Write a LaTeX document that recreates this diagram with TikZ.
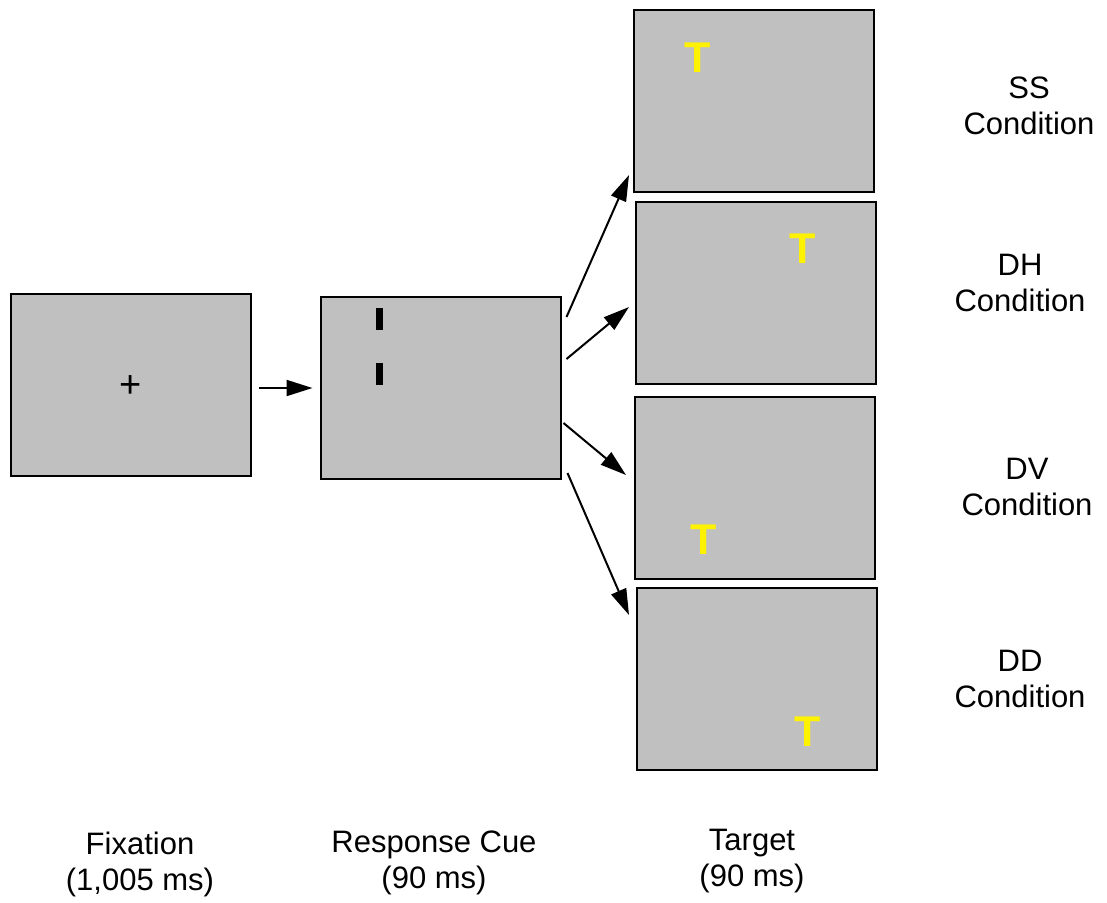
\documentclass[tikz,border=0pt]{standalone}
\usepackage{fontspec}
\setmainfont{Liberation Sans}
\usepackage{tikz}
\usetikzlibrary{arrows.meta}
\usetikzlibrary{positioning,calc}
\usepackage{xcolor}
\definecolor{screengray}{RGB}{192,192,192}

\begin{document}
\begin{tikzpicture}[x=0.5pt,y=-0.5pt]
		\tikzstyle{screen} = [draw, line width=1pt, fill=screengray, rectangle,
			minimum width=120pt, minimum height=91pt, inner sep=0pt]
		\tikzstyle{target} = [text=yellow, inner sep=0pt, font=\fontsize{21.5}{24}\selectfont\bfseries]
		\tikzstyle{cuemark} = [fill=black, rectangle, minimum width=3.5pt, minimum height=11pt, inner sep=0pt]
		\tikzstyle{ann} = [align=center, inner sep=0pt, font=\fontsize{15.5}{18}\selectfont]
		\tikzstyle{flow} = [line width=1pt, -{Triangle[length=13pt,width=8pt]}]
		\useasboundingbox (0,0) rectangle (1107,902);

		% screens
		\node[screen] (fix) at (131,385) {};
		\node[screen] (cue) at (440.5,388) {};
		\node[screen] (ss) at (753.5,101) {};
		\node[screen] (dh) at (756,293) {};
		\node[screen] (dv) at (755,487.5) {};
		\node[screen] (dd) at (757,679) {};

		% screen contents
		\node[inner sep=0pt, font=\fontsize{19}{22}\selectfont] (plus) at (131,387) {+};
		\node[cuemark] (mark1) at (379.5,319) {};
		\node[cuemark] (mark2) at (379.5,374) {};
		\node[target] (tss) at (698,58) {T};
		\node[target] (tdh) at (803,249) {T};
		\node[target] (tdv) at (704,540) {T};
		\node[target] (tdd) at (808,732) {T};

		% labels
		\node[ann] (lss) at (1029,106) {SS\\Condition};
		\node[ann] (ldh) at (1020,283) {DH\\Condition};
		\node[ann] (ldv) at (1027,487) {DV\\Condition};
		\node[ann] (ldd) at (1020,679) {DD\\Condition};
		\node[ann] (lfix) at (140,864) {Fixation\\(1,005 ms)};
		\node[ann] (lcue) at (434,863) {Response Cue\\(90 ms)};
		\node[ann] (ltarget) at (752,861) {Target\\(90 ms)};

		% arrows
		\draw [flow] ($(fix.east)+(7,3)$) -- ($(cue.west)+(-7,0)$);
		\draw [flow] ($(cue.east)+(5,-71)$) -- ($(ss.west)+(-3.5,74)$);
		\draw [flow] ($(cue.east)+(5,-29)$) -- ($(dh.west)+(-6,14)$);
		\draw [flow] ($(cue.east)+(2,35)$) -- ($(dv.west)+(-8,-12.5)$);
		\draw [flow] ($(cue.east)+(6,85)$) -- ($(dd.west)+(-7,-64)$);

\end{tikzpicture}
\end{document}
